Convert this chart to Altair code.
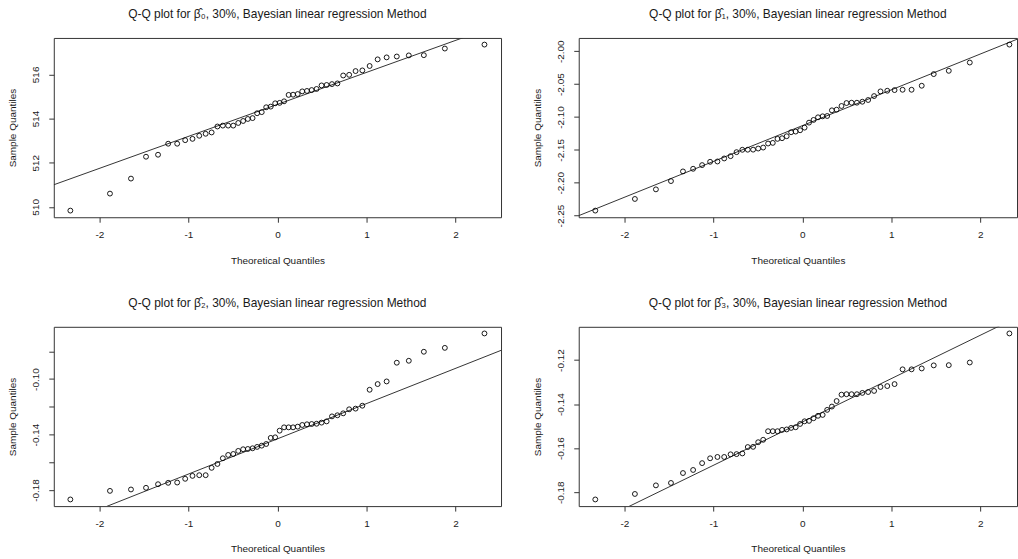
import altair as alt
import pandas as pd

# Theoretical normal quantiles (50 points)
theoretical = [-2.326, -1.881, -1.645, -1.476, -1.341, -1.227, -1.126, -1.036, -0.954, -0.878,
               -0.806, -0.739, -0.674, -0.613, -0.553, -0.496, -0.440, -0.385, -0.332, -0.279,
               -0.228, -0.176, -0.126, -0.075, -0.025, 0.025, 0.075, 0.126, 0.176, 0.228,
               0.279, 0.332, 0.385, 0.440, 0.496, 0.553, 0.613, 0.674, 0.739, 0.806,
               0.878, 0.954, 1.036, 1.126, 1.227, 1.341, 1.476, 1.645, 1.881, 2.326]

beta0 = [509.83, 510.60, 511.28, 512.27, 512.36, 512.86, 512.86, 513.02, 513.08, 513.22,
         513.31, 513.37, 513.64, 513.68, 513.68, 513.68, 513.80, 513.89, 513.98, 514.02,
         514.24, 514.29, 514.51, 514.54, 514.69, 514.71, 514.78, 515.07, 515.08, 515.11,
         515.23, 515.25, 515.29, 515.34, 515.50, 515.52, 515.56, 515.59, 515.95, 515.98,
         516.15, 516.18, 516.38, 516.68, 516.77, 516.81, 516.86, 516.87, 517.17, 517.35]

beta1 = [-2.2424, -2.2247, -2.2101, -2.1975, -2.1828, -2.1788, -2.1732, -2.1682, -2.1677, -2.1631,
         -2.1596, -2.1535, -2.1499, -2.1498, -2.1497, -2.1480, -2.1465, -2.1404, -2.1394, -2.1333,
         -2.1323, -2.1293, -2.1232, -2.1222, -2.1202, -2.1162, -2.1086, -2.1045, -2.1005, -2.0990,
         -2.0985, -2.0899, -2.0889, -2.0833, -2.0788, -2.0783, -2.0783, -2.0768, -2.0742, -2.0682,
         -2.0611, -2.0601, -2.0591, -2.0586, -2.0586, -2.0525, -2.0348, -2.0298, -2.0172, -1.9899]

beta2 = [-0.1868, -0.1806, -0.1796, -0.1784, -0.1758, -0.1748, -0.1746, -0.1719, -0.1698, -0.1693,
         -0.1693, -0.1640, -0.1612, -0.1571, -0.1547, -0.1540, -0.1518, -0.1506, -0.1504, -0.1499,
         -0.1489, -0.1480, -0.1468, -0.1424, -0.1420, -0.1372, -0.1348, -0.1348, -0.1348, -0.1343,
         -0.1331, -0.1326, -0.1324, -0.1322, -0.1314, -0.1305, -0.1269, -0.1261, -0.1247, -0.1218,
         -0.1213, -0.1192, -0.1077, -0.1036, -0.1017, -0.0882, -0.0868, -0.0803, -0.0775, -0.0671]

beta3 = [-0.1833, -0.1808, -0.1769, -0.1758, -0.1713, -0.1699, -0.1668, -0.1646, -0.1640, -0.1640,
         -0.1628, -0.1627, -0.1624, -0.1595, -0.1594, -0.1573, -0.1562, -0.1523, -0.1523, -0.1523,
         -0.1517, -0.1515, -0.1508, -0.1505, -0.1490, -0.1478, -0.1476, -0.1464, -0.1453, -0.1449,
         -0.1426, -0.1411, -0.1386, -0.1357, -0.1355, -0.1355, -0.1355, -0.1349, -0.1345, -0.1340,
         -0.1322, -0.1318, -0.1309, -0.1242, -0.1242, -0.1238, -0.1224, -0.1223, -0.1211, -0.1079]

# Reference line (intercept, slope)
line_intercepts = [514.64, -2.1132, -0.1431, -0.1481]
line_slopes = [1.449, 0.0545, 0.0254, 0.0197]

titles = ["Q-Q plot for \u03b2\u0302\u2080, 30%, Bayesian linear regression Method",
          "Q-Q plot for \u03b2\u0302\u2081, 30%, Bayesian linear regression Method",
          "Q-Q plot for \u03b2\u0302\u2082, 30%, Bayesian linear regression Method",
          "Q-Q plot for \u03b2\u0302\u2083, 30%, Bayesian linear regression Method"]

y_ticks = [[510, 512, 514, 516],
           [-2.25, -2.20, -2.15, -2.10, -2.05, -2.00],
           [-0.18, -0.16, -0.14, -0.12, -0.10, -0.08],
           [-0.18, -0.16, -0.14, -0.12]]
y_formats = ["d", ".2f", ".2f", ".2f"]
HY = "replace(datum.label, '\u2212', '-')"
y_label_exprs = [HY, HY, "abs(round(datum.value*100) % 4) == 2 ? " + HY + " : ''", HY]
x_ticks = [-2, -1, 0, 1, 2]

FONT = "Liberation Sans"
LINE = "#333333"
TEXT = "#1a1a1a"

FULL_W = 449   # full panel width
CUT_W = 440    # right-column panels are cut by the picture's right edge
PANEL_H = 180


def ext_domain(vals):
    lo, hi = min(vals), max(vals)
    r = hi - lo
    return [lo - 0.04 * r, hi + 0.04 * r]


x_dom = ext_domain(theoretical)
x_dom_cut = [x_dom[0], x_dom[0] + (x_dom[1] - x_dom[0]) * CUT_W / FULL_W]


def panel(values, a, b, title, yt, fmt, lexpr, xd, w):
    df = pd.DataFrame({"x": theoretical, "y": values})
    y_dom = ext_domain(values)
    xs = alt.Scale(domain=xd, nice=False, zero=False)
    ys = alt.Scale(domain=y_dom, nice=False, zero=False)
    xaxis = alt.Axis(values=x_ticks, title="Theoretical Quantiles", domain=False, grid=False,
                     format="d", labelExpr=HY,
                     tickSize=5, tickColor=LINE, labelFont=FONT, labelFontSize=10,
                     labelColor=TEXT, labelPadding=7, labelFlush=False,
                     labelOverlap=False,
                     titleFont=FONT, titleFontSize=10, titleFontWeight="normal",
                     titleColor=TEXT, titlePadding=16)
    yaxis = alt.Axis(values=yt, title="Sample Quantiles", domain=False, grid=False,
                     tickSize=5, tickColor=LINE, labelFont=FONT, labelFontSize=10,
                     labelColor=TEXT, labelAngle=270, labelAlign="center",
                     labelBaseline="bottom", labelPadding=8, labelFlush=False,
                     labelOverlap=False, labelSeparation=0, labelBound=False,
                     format=fmt, labelExpr=lexpr,
                     titleFont=FONT, titleFontSize=10, titleFontWeight="normal",
                     titleColor=TEXT, titlePadding=13)
    pts = alt.Chart(df).mark_point(shape="circle", filled=False, size=24, stroke="black",
                                   strokeWidth=0.9, opacity=1, clip=True).encode(
        x=alt.X("x:Q", scale=xs, axis=xaxis),
        y=alt.Y("y:Q", scale=ys, axis=yaxis),
    )
    ldf = pd.DataFrame({"x": x_dom, "y": [a + b * v for v in x_dom]})
    ln = alt.Chart(ldf).mark_line(clip=True, color=LINE, strokeWidth=1).encode(
        x=alt.X("x:Q", scale=xs, axis=xaxis),
        y=alt.Y("y:Q", scale=ys, axis=yaxis),
    )
    return alt.layer(ln, pts).properties(
        width=w, height=PANEL_H,
        title=alt.TitleParams(text=title, font=FONT, fontSize=12, fontWeight="normal",
                              color=TEXT, frame="group", anchor="middle",
                              baseline="alphabetic", offset=8),
    )


vals = [beta0, beta1, beta2, beta3]
x_domains = [x_dom, x_dom_cut, x_dom, x_dom_cut]
widths = [FULL_W, CUT_W, FULL_W, CUT_W]
panels = [panel(vals[i], line_intercepts[i], line_slopes[i], titles[i], y_ticks[i],
                y_formats[i], y_label_exprs[i], x_domains[i], widths[i]) for i in range(4)]

chart = alt.vconcat(
    alt.hconcat(panels[0], panels[1], spacing=30),
    alt.hconcat(panels[2], panels[3], spacing=30),
    spacing=30,
).properties(
    padding={"left": 7, "top": 6, "right": 0, "bottom": 0},
    background="white",
).configure_view(stroke=LINE, strokeWidth=1)

chart.save("out.html", embed_options={"renderer": "svg", "actions": False})
